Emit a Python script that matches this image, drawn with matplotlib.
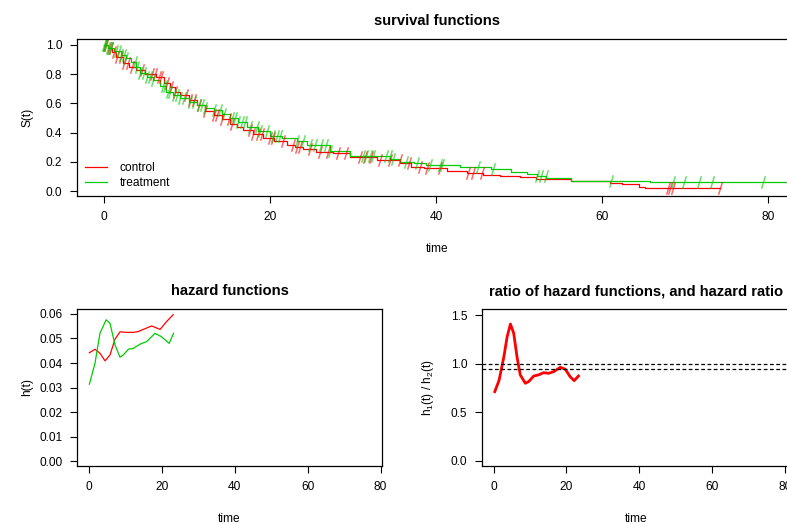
import numpy as np
import matplotlib
matplotlib.use('Agg')
import matplotlib.pyplot as plt
from matplotlib.path import Path

plt.rcParams['font.family'] = ['Liberation Sans', 'DejaVu Sans']
plt.rcParams['mathtext.default'] = 'regular'

# ── Kaplan-Meier step curves (time, survival) ─────────────────────────
ctrl_t = [0, 0.5, 1.0, 1.5, 2.3, 3.0, 3.9, 5.0, 6.3, 7.2, 8.0, 8.6, 9.2, 10.2,
          11.2, 12.2, 13.2, 14.2, 15.2, 16.0, 16.8, 18.0, 19.2, 20.5, 22.0,
          23.0, 24.0, 25.5, 27.6, 29.6, 32.9, 35.7, 37.0, 38.5, 41.3, 43.7,
          45.7, 47.7, 50.1, 52.1, 56.3, 61.0, 62.4, 64.4, 65.2, 74.2]
ctrl_s = [1.0, 0.98, 0.95, 0.92, 0.88, 0.85, 0.83, 0.80, 0.78, 0.74, 0.71, 0.68,
          0.66, 0.62, 0.59, 0.55, 0.52, 0.49, 0.46, 0.44, 0.42, 0.39, 0.36, 0.34,
          0.315, 0.30, 0.285, 0.27, 0.258, 0.235, 0.212, 0.19, 0.166, 0.158,
          0.139, 0.121, 0.11, 0.103, 0.094, 0.082, 0.068, 0.053, 0.046, 0.03,
          0.023, 0.023]

trt_t = [0, 0.5, 1.2, 2.0, 2.7, 3.3, 3.8, 4.3, 5.2, 5.9, 6.7, 7.5, 8.3, 9.2,
         10.2, 11.2, 12.2, 13.2, 14.2, 15.2, 16.2, 17.2, 18.6, 20.0, 21.5, 23.2,
         24.5, 27.2, 29.6, 34.5, 35.7, 37.4, 38.8, 42.9, 46.6, 49.0, 51.0, 52.2,
         53.3, 56.3, 65.8, 84.0]
trt_s = [1.0, 0.98, 0.96, 0.93, 0.91, 0.885, 0.85, 0.81, 0.78, 0.76, 0.72, 0.68,
         0.66, 0.635, 0.61, 0.59, 0.57, 0.555, 0.525, 0.50, 0.47, 0.44, 0.41,
         0.38, 0.36, 0.34, 0.315, 0.274, 0.24, 0.217, 0.20, 0.19, 0.178, 0.166,
         0.15, 0.132, 0.116, 0.103, 0.087, 0.071, 0.06, 0.06]

# censoring times
ctrl_cens = [0.1, 0.3, 0.6, 0.9, 1.2, 1.6, 2.0, 2.4, 2.9, 3.4, 4.6, 5.8, 6.2, 6.6,
             6.9, 7.6, 8.1, 8.6, 9.9, 10.4, 10.9, 11.5, 12.2, 13.2, 13.6, 14.2,
             15.0, 15.4, 17.6, 18.0, 18.6, 19.0, 20.0, 20.4, 21.6, 22.8, 23.2,
             23.6, 24.8, 26.0, 27.0, 28.2, 29.2, 30.8, 31.4, 32.2, 33.2, 34.4,
             35.6, 36.8, 38.1, 38.9, 40.5, 43.9, 44.5, 45.5, 67.9, 68.2, 68.5, 74.2]
trt_cens = [0.0, 0.15, 0.3, 0.5, 0.7, 0.9, 1.4, 1.8, 2.1, 2.4, 2.7, 3.7, 4.0, 4.3,
            4.8, 5.2, 5.5, 5.9, 7.1, 7.4, 7.7, 8.0, 8.4, 8.8, 9.2, 9.6, 10.4,
            10.9, 11.4, 11.8, 12.2, 13.2, 14.0, 14.4, 15.4, 15.8, 16.2, 16.6,
            17.0, 17.6, 18.4, 18.8, 19.6, 20.4, 20.8, 21.2, 23.2, 24.0, 24.8,
            25.4, 26.2, 26.8, 27.2, 31.2, 31.6, 32.0, 32.4, 34.0, 34.4, 34.8,
            36.4, 37.7, 39.3, 40.5, 40.7, 45.1, 46.9, 52.2, 52.6, 53.2, 61.1,
            68.5, 69.9, 71.7, 73.3, 79.4]

# ── smoothed hazards ──────────────────────────────────────────────────
haz_t    = [0.1, 1.65, 3.0, 4.4, 5.76, 7.13, 8.5, 10.3, 12.2, 13.5, 14.9, 17.2,
            19.5, 21.3, 23.1]
haz_ctrl = [0.0442, 0.0456, 0.0440, 0.0409, 0.0433, 0.0497, 0.0527, 0.0525,
            0.0525, 0.0528, 0.0537, 0.0551, 0.0537, 0.0569, 0.0597]
haz_t2   = [0.1, 1.65, 3.0, 4.7, 5.76, 7.13, 8.5, 9.4, 10.8, 12.2, 14.0, 15.8,
            18.1, 19.9, 22.0, 23.2]
haz_trt  = [0.0314, 0.0399, 0.0521, 0.0576, 0.0562, 0.0474, 0.0424, 0.0433,
            0.0456, 0.0460, 0.0477, 0.0487, 0.0521, 0.0507, 0.0480, 0.0521]

ratio_t = [0.3, 1.5, 2.8, 3.7, 4.6, 5.5, 6.4, 7.3, 8.7, 9.6, 11.0, 12.3, 13.7,
           15.1, 16.5, 18.3, 19.7, 21.0, 22.1, 23.3]
ratio_v = [0.714, 0.834, 1.074, 1.28, 1.41, 1.315, 1.074, 0.886, 0.80, 0.817,
           0.875, 0.886, 0.909, 0.903, 0.92, 0.965, 0.944, 0.868, 0.827, 0.875]
hr_const = 0.944

RED   = '#FF0000'
GREEN = '#00CD00'
FS = 8.6

slash = Path([(-0.3, -1.0), (0.3, 1.0)], [Path.MOVETO, Path.LINETO])


def surv_at(times, surv, t):
    idx = np.searchsorted(times, t, side='right') - 1
    return np.asarray(surv)[idx]


def style(ax):
    for s in ax.spines.values():
        s.set_linewidth(0.9)
    ax.tick_params(direction='out', length=5, width=0.8, labelsize=FS, pad=5.5)


fig = plt.figure(figsize=(7.87, 5.24), dpi=100)
W, H = 787, 524


def px_axes(l, r, t, b):
    return fig.add_axes([l / W, (H - b) / H, (r - l) / W, (b - t) / H])


# ── survival functions ────────────────────────────────────────────────
ax1 = px_axes(77, 798, 39, 196)
ax1.step(ctrl_t, ctrl_s, where='post', color=RED, lw=0.9, label='control')
ax1.step(trt_t, trt_s, where='post', color=GREEN, lw=0.9, label='treatment')
ax1.plot(ctrl_cens, surv_at(ctrl_t, ctrl_s, ctrl_cens), ls='none', marker=slash,
         ms=9, mew=1.1, mec=RED, alpha=0.6)
ax1.plot(trt_cens, surv_at(trt_t, trt_s, trt_cens), ls='none', marker=slash,
         ms=9, mew=1.1, mec=GREEN, alpha=0.6)
ax1.set_xlim(-3.25, 83.6)
ax1.set_ylim(-0.034, 1.041)
ax1.set_xticks([0, 20, 40, 60, 80])
ax1.set_yticks([0.0, 0.2, 0.4, 0.6, 0.8, 1.0])
ax1.set_yticklabels(['0.0', '0.2', '0.4', '0.6', '0.8', '1.0'])
ax1.set_title('survival functions', fontsize=10.6, fontweight='bold', pad=10)
ax1.set_xlabel('time', fontsize=FS)
ax1.set_ylabel('S(t)', fontsize=FS)
ax1.xaxis.set_label_coords(0.5, -0.3, transform=ax1.transAxes)
ax1.xaxis.label.set_va('top')
ax1.yaxis.set_label_coords(-0.061, 0.5)
ax1.legend(loc='lower left', frameon=False, fontsize=FS, handlelength=1.85,
           handletextpad=1.0, labelspacing=0.25, borderaxespad=0.3,
           bbox_to_anchor=(0.0, -0.01))
style(ax1)

# ── hazard functions ──────────────────────────────────────────────────
ax2 = px_axes(77, 382, 309, 466)
ax2.plot(haz_t, haz_ctrl, color=RED, lw=0.9)
ax2.plot(haz_t2, haz_trt, color=GREEN, lw=0.9)
ax2.set_xlim(-3.29, 80.38)
ax2.set_ylim(-0.0019, 0.062)
ax2.set_xticks([0, 20, 40, 60, 80])
ax2.set_yticks([0.0, 0.01, 0.02, 0.03, 0.04, 0.05, 0.06])
ax2.set_yticklabels(['0.00', '0.01', '0.02', '0.03', '0.04', '0.05', '0.06'])
ax2.set_title('hazard functions', fontsize=10.6, fontweight='bold', pad=10)
ax2.set_xlabel('time', fontsize=FS)
ax2.set_ylabel('h(t)', fontsize=FS)
ax2.xaxis.set_label_coords(0.5, -0.3)
ax2.xaxis.label.set_va('top')
ax2.yaxis.set_label_coords(-0.144, 0.5)
style(ax2)

# ── ratio of hazards ──────────────────────────────────────────────────
ax3 = px_axes(482, 790, 309, 466)
ax3.plot(ratio_t, ratio_v, color=RED, lw=2.0)
ax3.axhline(1.0, color='black', ls=(0, (3, 2)), lw=0.9)
ax3.axhline(hr_const, color='black', ls=(0, (3, 2)), lw=0.9)
ax3.set_xlim(-3.21, 81.4)
ax3.set_ylim(-0.0515, 1.565)
ax3.set_xticks([0, 20, 40, 60, 80])
ax3.set_yticks([0.0, 0.5, 1.0, 1.5])
ax3.set_yticklabels(['0.0', '0.5', '1.0', '1.5'])
ax3.set_title('ratio of hazard functions, and hazard ratio', fontsize=10.6,
              fontweight='bold', pad=10)
ax3.set_xlabel('time', fontsize=FS)
ax3.set_ylabel(r'h$_1$(t) / h$_2$(t)', fontsize=FS)
ax3.xaxis.set_label_coords(0.5, -0.3)
ax3.xaxis.label.set_va('top')
ax3.yaxis.set_label_coords(-0.149, 0.5)
style(ax3)

for ax in (ax1, ax2, ax3):
    for lab in ax.get_yticklabels():
        lab.set_rotation(0)

fig.savefig('out.png', dpi=100)
